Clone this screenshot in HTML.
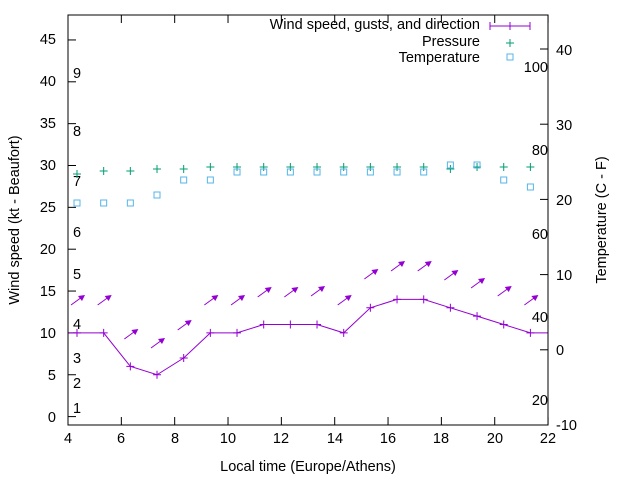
<!DOCTYPE html>
<html><head><meta charset="utf-8"><style>body{margin:0;background:#fff}svg{display:block;font-family:"Liberation Sans",sans-serif}</style></head><body>
<svg id="s" width="640" height="480" viewBox="0 0 640 480" xmlns="http://www.w3.org/2000/svg">
<rect width="640" height="480" fill="#fff"/>
<g font-size="14.5" fill="#000">
<g text-anchor="end">
<text x="56" y="422">0</text><text x="56" y="380">5</text><text x="56" y="338">10</text><text x="56" y="296">15</text><text x="56" y="254">20</text><text x="56" y="212">25</text><text x="56" y="170">30</text><text x="56" y="128">35</text><text x="56" y="86">40</text><text x="56" y="44">45</text>
<text x="548" y="322">40</text><text x="548" y="405">20</text><text x="548" y="239">60</text><text x="548" y="155">80</text><text x="548" y="72">100</text>
<text x="480" y="29">Wind speed, gusts, and direction</text><text x="480" y="46">Pressure</text><text x="480" y="62">Temperature</text>
</g>
<g text-anchor="start">
<text x="556" y="430">-10</text><text x="556" y="355">0</text><text x="556" y="280">10</text><text x="556" y="205">20</text><text x="556" y="130">30</text><text x="556" y="55">40</text>
<text x="73" y="413">1</text><text x="73" y="388">2</text><text x="73" y="363">3</text><text x="73" y="329">4</text><text x="73" y="279">5</text><text x="73" y="237">6</text><text x="73" y="186">7</text><text x="73" y="136">8</text><text x="73" y="78">9</text>
</g>
<g text-anchor="middle">
<text x="68" y="443">4</text><text x="121" y="443">6</text><text x="175" y="443">8</text><text x="228" y="443">10</text><text x="281" y="443">12</text><text x="335" y="443">14</text><text x="388" y="443">16</text><text x="441" y="443">18</text><text x="495" y="443">20</text><text x="548" y="443">22</text>
<text x="308" y="471">Local time (Europe/Athens)</text>
<text transform="translate(19,220) rotate(-90)">Wind speed (kt - Beaufort)</text>
<text transform="translate(606,220) rotate(-90)">Temperature (C - F)</text>
</g>
</g>
<g id="g" stroke-width="1"></g>
<rect x="68" y="15" width="480" height="410" fill="none" stroke="#000" stroke-width="1"/>
</svg>
<script>
const g=document.getElementById('g');let h='';
const X=i=>77+i*26.67, Y=v=>416.6-v*8.37;
for(let v=0;v<=45;v+=5){const y=Y(v);h+=`<line x1="68" y1="${y}" x2="76" y2="${y}" stroke="#000"/>`;}
for(let c=-10;c<=40;c+=10){const y=425-(c+10)*7.52;h+=`<line x1="540" y1="${y}" x2="548" y2="${y}" stroke="#000"/>`;}
for(let x=4;x<=22;x+=2){const px=68+(x-4)*26.67;h+=`<line x1="${px}" y1="425" x2="${px}" y2="417" stroke="#000"/><line x1="${px}" y1="15" x2="${px}" y2="23" stroke="#000"/>`;}
const w=[10,10,6,5,7,10,10,11,11,11,10,13,14,14,13,12,11,10];
let pts='68,'+Y(10);w.forEach((v,i)=>pts+=` ${X(i)},${Y(v)}`);pts+=` 548,${Y(10)}`;
h+=`<polyline points="${pts}" fill="none" stroke="#9400d3"/>`;
w.forEach((v,i)=>{const x=X(i),y=Y(v);h+=`<path d="M${x-4} ${y}h8M${x} ${y-4}v8" stroke="#9400d3"/>`;});
const ay=[300,300,334,343,325,300,300,292,292,291,300,274,266,266,275,283,291,300];
ay.forEach((y,i)=>{const x=X(i)+1;h+=`<line x1="${x-7}" y1="${y+5}" x2="${x+4}" y2="${y-3}" stroke="#9400d3"/><polygon points="${x+7},${y-5} ${x},${y-4} ${x+4},${y+1}" fill="#9400d3"/>`;});
const py=[174,171,171,169,169,167,167,167,167,167,167,167,167,167,169,167,167,167];
py.forEach((y,i)=>{const x=X(i);h+=`<path d="M${x-4} ${y}h8M${x} ${y-4}v8" stroke="#009e73"/>`;});
const ty=[203,203,203,195,180,180,172,172,172,172,172,172,172,172,165,165,180,187];
ty.forEach((y,i)=>{const x=X(i);h+=`<rect x="${x-3}" y="${y-3}" width="6" height="6" fill="none" stroke="#56b4e9"/>`;});
h+=`<path d="M490 26h40M490 22v8M530 22v8M510 22v8" stroke="#9400d3"/><path d="M506 43h8M510 39v8" stroke="#009e73"/><rect x="507" y="54" width="6" height="6" fill="none" stroke="#56b4e9"/>`;
g.innerHTML=h;
</script>
</body></html>
